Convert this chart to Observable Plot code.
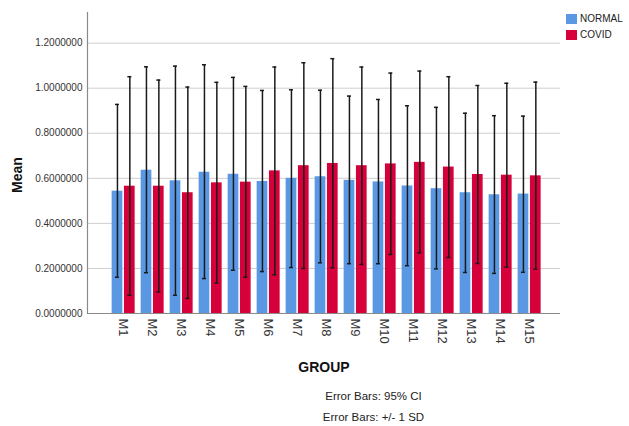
<!DOCTYPE html>
<html>
<head>
<meta charset="utf-8">
<script src="https://cdn.jsdelivr.net/npm/d3@7"></script>
<script src="https://cdn.jsdelivr.net/npm/@observablehq/plot@0.6"></script>
<style>
  body { margin: 0; background: #fff; font-family: "Liberation Sans", Arial, sans-serif; }
  #wrap { position: relative; width: 629px; }
  .leg { position: absolute; left: 566px; font-size: 10px; color: #222; display: flex; align-items: center; }
  .sw { width: 11px; height: 10px; margin-right: 3px; }
  .cap { position: relative; left: 59px; width: 629px; text-align: center; font-size: 11.5px; color: #222; }
</style>
</head>
<body>
<div id="wrap"></div>
<script>
const groups = ["M1","M2","M3","M4","M5","M6","M7","M8","M9","M10","M11","M12","M13","M14","M15"];
const series = ["NORMAL", "COVID"];
const seriesColors = ["#5a98e3", "#d6003b"];

const normalMean = [0.543,0.636,0.589,0.627,0.618,0.586,0.600,0.607,0.591,0.584,0.566,0.554,0.536,0.527,0.530];
const normalLow  = [0.161,0.181,0.081,0.155,0.192,0.186,0.204,0.225,0.221,0.221,0.212,0.198,0.182,0.178,0.183];
const normalHigh = [0.928,1.095,1.098,1.104,1.048,0.990,0.993,0.991,0.965,0.950,0.922,0.915,0.889,0.878,0.876];

const covidMean = [0.565,0.565,0.536,0.580,0.583,0.633,0.656,0.666,0.656,0.664,0.671,0.650,0.617,0.614,0.611];
const covidLow  = [0.081,0.096,0.067,0.135,0.161,0.172,0.200,0.203,0.218,0.262,0.269,0.249,0.222,0.206,0.197];
const covidHigh = [1.051,1.036,1.005,1.026,1.008,1.094,1.113,1.131,1.094,1.067,1.076,1.051,1.012,1.022,1.027];

const yTicks = [0, 0.2, 0.4, 0.6, 0.8, 1.0, 1.2];
const yLabel = "Mean";
const xLabel = "GROUP";
const captions = ["Error Bars: 95% CI", "Error Bars: +/- 1 SD"];

const normalRows = groups.map((g, i) => ({group: g, series: "NORMAL", mean: normalMean[i], low: normalLow[i], high: normalHigh[i]}));
const covidRows  = groups.map((g, i) => ({group: g, series: "COVID", mean: covidMean[i], low: covidLow[i], high: covidHigh[i]}));

const half = 12.3;   // inset that splits each group band into two bars
const off = 6.2;     // offset of each bar centre from the band centre
const errStyle = {stroke: "#1a1a1a", strokeWidth: 1.5};

function errorMarks(rows, dx) {
  return [
    Plot.ruleX(rows, {x: "group", y1: "low", y2: "high", dx, ...errStyle}),
    Plot.tickY(rows, {x: "group", y: "low", dx, insetLeft: 9.5, insetRight: 9.5, ...errStyle}),
    Plot.tickY(rows, {x: "group", y: "high", dx, insetLeft: 9.5, insetRight: 9.5, ...errStyle})
  ];
}

const chart = Plot.plot({
  width: 629,
  height: 380,
  marginLeft: 87,
  marginRight: 69,
  marginTop: 12,
  marginBottom: 67,
  style: {fontFamily: "'Liberation Sans', Arial, sans-serif", color: "#222", background: "#fff"},
  x: {domain: groups, paddingInner: 0.207, paddingOuter: 0.759, align: 0.56, round: false},
  y: {domain: [0, 1.336]},
  color: {domain: series, range: seriesColors},
  marks: [
    Plot.ruleY(yTicks.slice(1), {stroke: "#cfcfcf", strokeWidth: 1}),
    Plot.barY(normalRows, {x: "group", y: "mean", fill: "series", insetRight: half}),
    Plot.barY(covidRows, {x: "group", y: "mean", fill: "series", insetLeft: half}),
    ...errorMarks(normalRows, -off),
    ...errorMarks(covidRows, off),
    Plot.ruleY([0], {stroke: "#8a8a8a", strokeWidth: 1.2}),
    Plot.frame({anchor: "left", stroke: "#8a8a8a", strokeWidth: 1.2}),
    Plot.axisY({ticks: yTicks, tickFormat: d3.format(".7f"), tickSize: 0, tickPadding: 5, label: null, fontSize: 10, fill: "#333"}),
    Plot.axisX({tickRotate: 90, tickSize: 0, tickPadding: 5, label: null, fontSize: 13, fill: "#333"}),
    Plot.text([xLabel], {frameAnchor: "bottom", dy: 58, fontSize: 14, fontWeight: "bold", fill: "#111"}),
    Plot.text([yLabel], {frameAnchor: "left", rotate: -90, dx: -70, dy: 30, fontSize: 14, fontWeight: "bold", fill: "#111"})
  ]
});

const wrap = document.getElementById("wrap");
wrap.appendChild(chart);

series.forEach((s, i) => {
  const d = document.createElement("div");
  d.className = "leg";
  d.style.top = (13 + i * 16) + "px";
  d.innerHTML = `<div class="sw" style="background:${seriesColors[i]}"></div><span>${s}</span>`;
  wrap.appendChild(d);
});

captions.forEach((c, i) => {
  const d = document.createElement("div");
  d.className = "cap";
  d.style.marginTop = i === 0 ? "10px" : "9px";
  d.textContent = c;
  wrap.appendChild(d);
});
</script>
</body>
</html>
